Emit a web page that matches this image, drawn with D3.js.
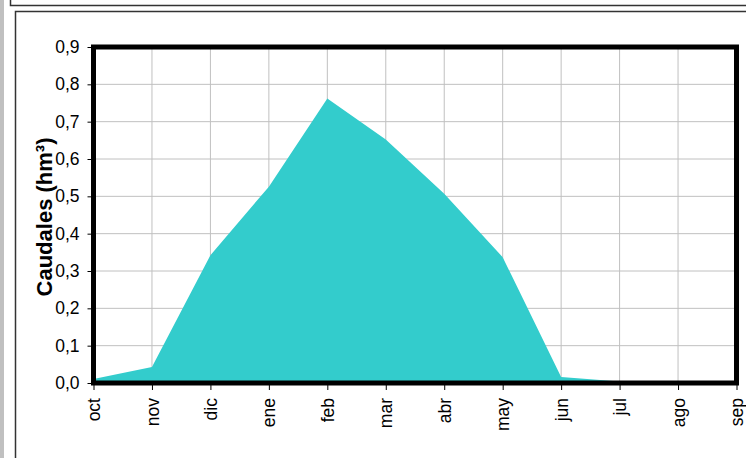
<!DOCTYPE html>
<html>
<head>
<meta charset="utf-8">
<script src="https://cdn.jsdelivr.net/npm/d3@7"></script>
<style>
  body { margin: 0; background: #fff; }
  svg { display: block; font-family: Arial, "Liberation Sans", sans-serif; }
</style>
</head>
<body>
<svg class="chart" width="746" height="458"></svg>
<script>
// caudales mensuales (hm3)
var months = ['oct', 'nov', 'dic', 'ene', 'feb', 'mar', 'abr', 'may', 'jun', 'jul', 'ago', 'sep']
var caudales = [0.011, 0.043, 0.342, 0.526, 0.762, 0.652, 0.507, 0.337, 0.016, 0.004, 0.003, 0.003]
var yTicks = [0, 0.1, 0.2, 0.3, 0.4, 0.5, 0.6, 0.7, 0.8, 0.9]

var svg = d3.select('svg.chart')
var fmt = (d) => d3.format('.1f')(d).replace('.', ',')
var font = 'Arial, "Liberation Sans", sans-serif'

// marcos de fondo
svg.append('rect').attr('x', 0).attr('y', 0).attr('width', 4).attr('height', 458).attr('fill', '#c0c0c0')
svg.append('path').attr('d', 'M10.5,0 V5.5 H746').attr('fill', 'none').attr('stroke', '#333').attr('stroke-width', 1.5)
svg.append('path').attr('d', 'M15.5,458 V11.5 H746').attr('fill', 'none').attr('stroke', '#333').attr('stroke-width', 1.5)

var x = d3.scalePoint().domain(months).range([93.5, 736.5])
var y = d3.scaleLinear().domain([0, 0.9]).range([383, 47])

// rejilla
svg.append('g').selectAll('line').data(months.slice(1, -1))
  .enter().append('line')
    .attr('x1', (d) => x(d)).attr('x2', (d) => x(d))
    .attr('y1', y(0.9)).attr('y2', y(0))
    .attr('stroke', '#c0c0c0').attr('stroke-width', 1)
svg.append('g').selectAll('line').data(yTicks.slice(1, -1))
  .enter().append('line')
    .attr('x1', x('oct')).attr('x2', x('sep'))
    .attr('y1', (d) => y(d)).attr('y2', (d) => y(d))
    .attr('stroke', '#c0c0c0').attr('stroke-width', 1)

// area
var area = d3.area()
  .x((d, i) => x(months[i]))
  .y0(y(0))
  .y1((d) => y(d))
svg.append('path').datum(caudales)
  .attr('d', area)
  .attr('fill', '#33cccc')

// marco del grafico
svg.append('rect')
  .attr('x', x('oct')).attr('y', y(0.9))
  .attr('width', x('sep') - x('oct')).attr('height', y(0) - y(0.9))
  .attr('fill', 'none').attr('stroke', '#000').attr('stroke-width', 5)

// ejes
var yAxis = svg.append('g').attr('transform', 'translate(' + (x('oct') - 2) + ',0)')
  .call(d3.axisLeft(y).tickValues(yTicks).tickFormat(fmt).tickSize(4).tickPadding(8))
yAxis.select('.domain').remove()
yAxis.selectAll('text').style('font-size', '17.5px').attr('fill', '#000').style('font-family', font)
yAxis.selectAll('line').attr('stroke', '#000')

var xAxis = svg.append('g').attr('transform', 'translate(0,' + (y(0) + 2) + ')')
  .call(d3.axisBottom(x).tickSize(5).tickPadding(4))
xAxis.select('.domain').remove()
xAxis.selectAll('line').attr('stroke', '#000')
xAxis.selectAll('text')
  .style('font-size', '17.5px').attr('fill', '#000').style('font-family', font)
  .attr('transform', 'rotate(-90)')
  .attr('text-anchor', 'end')
  .attr('x', -13).attr('y', 0).attr('dy', '0.35em')

svg.append('text')
  .attr('transform', 'translate(52,217) rotate(-90)')
  .attr('text-anchor', 'middle')
  .attr('font-size', 22).attr('font-weight', 'bold').attr('font-family', font)
  .text('Caudales (hm³)')
</script>
</body>
</html>
